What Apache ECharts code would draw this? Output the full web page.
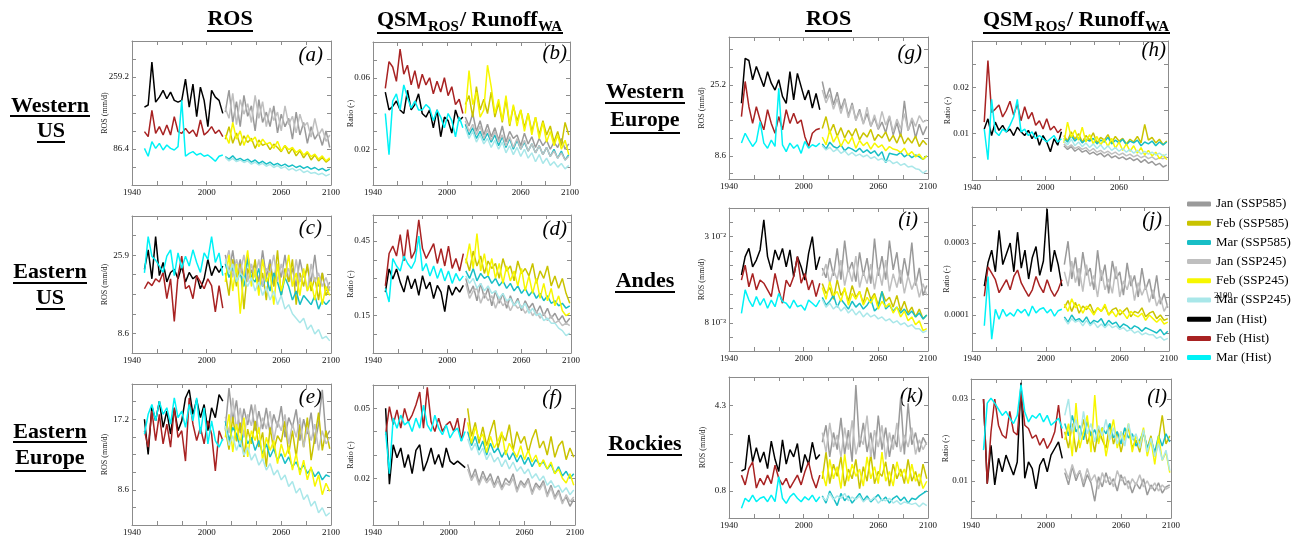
<!DOCTYPE html>
<html><head><meta charset="utf-8">
<script src="https://cdn.jsdelivr.net/npm/echarts@6/dist/echarts.min.js"></script>
<style>html,body{margin:0;padding:0;background:#fff}#c{width:1298px;height:535px}</style>
</head><body><div id="c"></div>
<script>
// ---------- shared categories ----------
const histYears = [1950,1953,1956,1959,1962,1965,1968,1971,1974,1977,1980,1983,1986,1989,1992,1995,1998,2001,2004,2007,2010,2013];
const futYears = [2015,2018,2021,2024,2027,2030,2033,2036,2039,2042,2045,2048,2051,2054,2057,2060,2063,2066,2069,2072,2075,2078,2081,2084,2087,2090,2093,2096,2099];
const seriesNames = ['Jan (SSP585)','Feb (SSP585)','Mar (SSP585)','Jan (SSP245)','Feb (SSP245)','Mar (SSP245)','Jan (Hist)','Feb (Hist)','Mar (Hist)'];
const seriesColors = ['#9a9a9a','#c9c300','#18bec6','#bfbfbf','#f7f700','#a9e7e9','#000000','#a82222','#00f2f6'];
const xTicks = [1940,1960,1980,2000,2020,2040,2060,2080,2100];
const xLabels = [1940,2000,2060,2100];
const xLabelsH = [1940,2000,2060];

// ---------- (a) Western US, ROS (mm/d) ----------
const a_jan585 = [175,228,150,200,140,215,165,190,130,205,150,175,140,190,125,170,140,160,110,175,120,150,100,140,110,125,95,130,90];
const a_feb585 = [110,140,100,125,95,118,102,112,88,108,95,100,85,98,90,80,95,75,88,70,82,65,78,60,72,58,66,55,62];
const a_mar585 = [68,62,70,60,64,58,62,55,60,52,57,50,55,48,52,46,50,44,48,42,46,40,44,38,42,36,40,34,38];
const a_jan245 = [185,160,220,145,205,170,195,150,215,160,200,140,185,155,175,130,190,145,165,125,170,140,150,115,160,120,135,105,120];
const a_feb245 = [120,100,150,110,130,95,120,105,115,92,110,98,102,88,105,82,95,85,90,78,85,72,80,68,74,62,70,58,65];
const a_mar245 = [66,58,64,56,60,54,58,50,55,48,52,45,50,42,47,40,44,36,40,34,38,30,34,28,30,25,28,22,26];
const a_janH = [187,192,295,199,211,227,207,223,203,199,203,254,187,242,164,235,203,140,227,211,203,172];
const a_febH = [128,116,179,124,140,120,144,120,164,128,124,136,124,132,116,156,120,128,140,124,132,116];
const a_marH = [88,69,104,88,100,84,96,88,84,92,203,69,76,80,72,76,69,72,65,57,69,72];
const a_yTicks = [0,43.2,86.4,129.6,172.8,216,259.2,302.4,345.6];
const a_yLabels = [[86.4,'86.4'],[259.2,'259.2']];

// ---------- (b) Western US, ratio (units of 0.001) ----------
const b_jan585 = [38,33,40,30,36,28,34,27,32,25,33,24,30,26,28,22,29,23,27,21,26,22,25,20,24,21,26,20,23];
const b_feb585 = [45,50,38,55,42,48,40,52,38,46,35,48,33,44,36,42,32,40,30,38,28,36,28,33,24,30,22,35,28];
const b_mar585 = [34,28,32,26,30,25,29,24,28,22,27,21,26,20,25,20,24,19,23,18,22,17,21,16,20,15,19,14,17];
const b_jan245 = [36,30,34,28,33,26,31,25,30,24,28,22,27,21,26,20,25,19,23,18,22,17,21,16,19,15,18,14,16];
const b_feb245 = [40,64,45,52,38,42,67,55,40,48,36,50,34,45,33,42,30,40,28,38,26,35,24,30,22,28,20,25,17];
const b_mar245 = [32,26,30,24,28,23,26,21,25,20,24,18,22,17,21,16,20,15,18,13,17,12,15,11,13,10,12,9,11];
const b_janH = [52,42,44,47,42,40,53,42,45,51,40,38,42,32,42,27,38,36,29,42,36,38];
const b_febH = [54,69,66,58,76,62,67,56,64,54,62,56,60,51,58,52,60,50,55,45,48,40];
const b_marH = [40,17,47,51,42,56,49,43,47,42,42,45,43,36,42,38,32,40,36,27,38,32];
const b_yTicks = [0,10,20,30,40,50,60,70,80];
const b_yLabels = [[20,'0.02'],[60,'0.06']];

// ---------- (c) Eastern US, ROS ----------
const c_jan585 = [26,22,27,21,25,20,26,22,24,20,27,21,25,19,24,21,26,20,23,19,25,21,23,20,26,19,22,18,20];
const c_feb585 = [22,17,25,19,24,14,23,20,25,18,22,16,24,19,27,17,23,20,25,15,22,19,24,18,21,16,22,17,19];
const c_mar585 = [24,21,23,20,22,19,25,21,20,23,19,21,18,22,20,17,21,19,16,18,15,17,16,15,17,14,16,15,16];
const c_jan245 = [24,27,21,25,22,26,20,24,21,25,19,23,22,26,20,24,21,23,19,25,20,22,18,24,20,22,19,21,18];
const c_feb245 = [20,26,18,24,13,22,27,19,23,17,25,20,22,15,24,18,21,26,19,22,17,23,18,20,16,21,15,19,17];
const c_mar245 = [25,22,24,20,22,21,19,21,18,20,17,19,16,18,15,17,14,15,13,12,11,12,9.5,10.5,8.5,9.5,7.5,8,7];
const c_janH = [22.8,27.1,20.7,30,21.4,24.3,20,22.1,22.8,20.7,23.5,20,22.1,20.7,21.4,18.5,20.7,25,21.4,23.5,22.1,23.5];
const c_febH = [18.5,20,19.2,20.7,20,22.1,16.3,20.7,11.3,21.4,25.7,18.5,19.2,16.3,21.4,20,18.5,20.7,19.2,13.4,19.2,14.2];
const c_marH = [22,30,25.7,24.8,23.5,22.1,25.7,27.1,21.4,26.4,23,25.7,23.5,27.1,24.3,22.1,26.4,25,30,24.3,26.4,21.4];
const c_yTicks = [4.32,8.64,12.96,17.28,21.6,25.92,30.24,34.56];
const c_yLabels = [[8.64,'8.6'],[25.92,'25.9']];

// ---------- (d) Eastern US, ratio (units of 0.01) ----------
const d_jan585 = [30,24,27,21,28,22,26,19,25,20,24,18,23,19,22,17,21,18,20,16,19,15,18,14,16,13,15,12,14];
const d_feb585 = [38,33,41,35,39,32,37,34,36,30,38,33,35,29,37,32,34,31,36,28,33,30,35,27,31,26,30,24,20];
const d_mar585 = [33,30,34,29,32,30,31,28,30,27,29,26,28,25,27,24,26,23,25,22,24,21,23,20,21,19,20,18,19];
const d_jan245 = [28,22,25,26,20,24,21,23,18,22,19,21,17,20,18,19,16,18,15,17,14,16,13,15,12,13,11,12,11];
const d_feb245 = [36,44,34,48,33,40,31,38,30,36,28,35,29,33,27,34,25,31,24,30,22,28,21,26,19,23,17,15,16];
const d_mar245 = [31,28,30,26,28,25,27,24,25,22,24,21,22,19,21,18,20,16,18,15,16,13,14,12,12,10,9,7,8];
const d_janH = [24.5,33.8,29.8,33.8,28.5,24.5,31.1,25.8,29.8,23.2,31.1,25.8,28.5,21.9,27.2,24.5,16.6,27.2,23.2,26.5,24.5,27.2];
const d_febH = [27,40,43,39,47.6,37,49.6,38,41,53.6,42,38,41,44,36,42,35,43,34,38,33,40];
const d_marH = [26,20.5,38,35,33,39,36,34,37,47,33,36,31,35,30,34,29,33,28,32,29,31];
const d_yTicks = [0,7.5,15,22.5,30,37.5,45,52.5];
const d_yLabels = [[15,'0.15'],[45,'0.45']];

// ---------- (e) Eastern Europe, ROS ----------
const e_jan585 = [16,21,17,19.5,15.5,18.5,16.5,19,15.8,18.2,16,18.6,15.4,17.8,16.2,18.8,15,17.4,16.2,18.4,14.6,17.2,15.4,18,14.2,16.6,20.8,15,15.8];
const e_feb585 = [16,13.5,17.5,14.5,16.8,12.6,16,14.2,17,13.8,15.6,11.4,16.2,13.4,15.2,14.4,17,13,15.8,12.6,16.6,13.8,17.4,12.2,15,18,13.4,15.8,13.6];
const e_mar585 = [17,14.6,16.2,15.4,13.8,15.8,14.2,15,13.4,14.6,13,14.2,12.6,13.6,12.2,13,11.8,12.6,11.4,12,11,11.6,10.6,11.2,10.2,10.8,9.8,10.4,10.2];
const e_jan245 = [17.5,15.5,19.8,16,18.6,15,17.8,16.4,19,15.4,17.4,16,18.2,14.6,17,15.8,17.8,14.2,16.6,15,17.4,13.8,16.2,14.6,16.6,13.4,15.8,14.2,15];
const e_feb245 = [15,17.8,13.2,16.6,14.2,17.4,12.6,15.8,14.6,16.2,12.2,15,13.4,14.6,11.8,14.2,12.6,13.8,11,13,10.4,12.2,9.8,11.4,9,10.4,8,9.4,8.4];
const e_mar245 = [16.4,14,15.2,13.4,14.6,12.8,13.8,12.2,13,11.6,12.4,11,11.8,10.4,11,9.8,10.4,9,9.6,8.2,8.8,7.4,8,6.6,7.2,5.8,6.4,5.4,5.8];
const e_janH = [17.2,12.9,18.8,17,19.4,16.2,18.2,15.4,18.6,15.8,17,19.8,20.8,17.8,19.6,17.4,19,15.8,18.6,17.4,20.2,19.4];
const e_febH = [15.8,13.8,18.2,14.6,17.8,14.2,16.6,13.8,18.6,15,15.8,12.1,19.8,16.6,14.6,16.2,14.2,17,15.4,10.9,15.8,14.6];
const e_marH = [15.4,17.8,19,17,19.4,17.8,18.6,16.6,19.8,17.4,18.2,16.2,19,17,19.8,15.4,18.6,14.2,17,14.6,13.8,14.8];
const e_yTicks = [4.3,6.45,8.6,10.75,12.9,15.05,17.2,19.35,21.5];
const e_yLabels = [[8.6,'8.6'],[17.2,'17.2']];

// ---------- (f) Eastern Europe, ratio (units of 0.001) ----------
const f_jan585 = [26,20,24,18,23,19,22,17,21,16,20,18,22,15,19,17,20,14,18,16,19,13,17,12,15,10,12,8,11];
const f_feb585 = [50,38,44,35,42,34,40,45,33,39,36,43,32,40,35,38,31,37,41,33,36,30,38,29,34,36,28,33,29];
const f_mar585 = [40,34,38,32,36,30,35,31,33,29,32,28,31,27,30,26,29,25,28,26,27,24,26,22,25,21,23,20,22];
const f_jan245 = [24,19,22,17,21,18,20,16,19,15,18,17,20,14,18,16,19,13,17,15,18,12,16,11,14,9,13,10,12];
const f_feb245 = [44,35,42,37,39,31,38,33,36,40,30,35,32,29,34,28,32,27,30,25,28,24,27,22,24,20,18,22,17];
const f_mar245 = [37,32,35,30,33,28,31,27,29,25,28,24,27,23,25,22,24,20,22,19,21,17,19,16,17,14,16,13,15];
const f_janH = [50,17.5,34.4,28.8,33,24.6,30.2,22,32,34.4,23.1,27.4,33,26,30.2,24.6,33,27.4,26,27.4,26,24.6];
const f_febH = [38.7,50.7,43,49.3,41.5,50,44.3,47.1,51.4,57,41.5,59,44.3,40.1,45.8,40.1,42.9,44.3,40.1,45.8,36,45.8];
const f_marH = [40,22,45.8,41.5,47.1,42.9,44.3,40.1,45.8,41.5,51.4,42.9,40.1,47.1,41.5,38.7,42.9,37.3,40.1,41.5,35.9,40.1];
const f_yTicks = [0,10,20,30,40,50,60];
const f_yLabels = [[20,'0.02'],[50,'0.05']];

// ---------- (g) Western Europe, ROS ----------
const g_jan585 = [26,22,24.5,20.5,23.5,19.5,22,18,21,17,19.5,16.2,18.5,15.5,17.5,14.8,16.5,14,17.8,13.5,16.4,13,21.5,14.5,17,12.8,16,13.5,15.5];
const g_feb585 = [15,17.8,14,16,13.2,15.2,12.8,14.6,13.2,15,12.4,14,13,14.8,12.2,13.6,12.8,14.2,12,13.4,11.6,13.8,11.4,12.8,11.6,13.2,10.8,12.2,11.2];
const g_mar585 = [11.4,10.2,11.8,10.8,10.4,11.2,9.8,10.6,10.2,9.6,10.4,9.4,10,9.2,9.8,8.6,9.6,7,9.2,9,8.8,9.4,8.4,9,8.2,8.8,8.4,7.8,8.6];
const g_jan245 = [24,21,23,19.5,22,18.5,21.5,17.5,20.5,16.8,19,16,20,15.5,18.2,15,19,15.8,18,14.2,17.2,15,18.5,14.5,17.5,15.5,18,16.5,17];
const g_feb245 = [13,11.2,14.6,11.8,13.4,10.8,12.6,11.4,13,10.4,12.2,11,11.8,10.2,11.6,10.6,11.2,9.8,10.8,10.2,10,9.4,10.4,8.8,9.6,8.4,9,7.8,8.6];
const g_mar245 = [11,10,10.6,9.6,10.2,9.2,9.8,8.8,9.4,8.6,9,8.4,8.8,8,8.4,7.6,8,7.2,7.6,6.8,7.2,6.4,6.8,6,6.2,5.6,5.4,4.6,5.2];
const g_janH = [20.9,31.4,30.9,26.4,29.5,27.1,24.8,28.3,25.6,24,26.4,22.5,20.9,28.3,21.7,27.9,24.8,21.7,24,19.8,23.2,19.4];
const g_febH = [17.8,26,20.1,16.2,20.1,17,14.7,19.4,16.2,13.9,17.8,14.7,19.4,16.2,18.6,16.2,17,13.1,10.8,13.9,14.7,15];
const g_marH = [11.6,13.9,12.3,10.8,12,16.6,11.6,10.4,12.3,10.8,24.4,11.2,9.6,11.6,10.4,11.2,9.2,12,10.4,11.2,10.8,11.6];
const g_yTicks = [4.45,8.6,12.75,16.9,21.05,25.2,29.35,33.5];
const g_yLabels = [[8.6,'8.6'],[25.2,'25.2']];

// ---------- (h) Western Europe, ratio (units of 0.001) ----------
const h_jan585 = [7.4,6.6,7.2,6.2,6.8,6,6.4,5.6,6,5.4,5.8,5,5.6,4.8,5.2,4.6,5,4.4,4.8,4.2,4.6,3.8,4.4,3.6,4,3.2,3.6,2.8,3.2];
const h_feb585 = [9.6,8.4,10.4,8.8,10,8.2,9.6,8.6,10.2,8,9.2,8.6,9.8,8,9.4,8.4,9,7.8,8.8,8.2,9.4,8,12,8.6,9.2,8,8.8,7.6,8.4];
const h_mar585 = [9,8.2,9.6,8.4,9.2,8,8.8,8.4,9,7.8,8.6,8.2,9.2,7.8,8.6,8,8.8,7.6,8.4,8,8.6,7.4,8.2,7.8,8.4,7.4,8.2,7.6,8.2];
const h_jan245 = [7.8,7,7.6,6.8,7.2,6.6,7,6.2,6.8,6,6.4,5.8,6.2,5.6,6,5.4,5.8,5.2,5.6,5,5.4,4.8,5.2,4.6,5,4.4,4.8,4.6,5];
const h_feb245 = [8,12.5,9.2,10.8,8.6,11.4,8.2,9.8,7.8,9.4,7.6,8.8,7.2,9,6.8,8.2,6.4,7.8,6.2,7.4,5.8,7,5.4,6.4,5.2,6,4.6,5.4,4.4];
const h_mar245 = [8.4,7.6,8.8,7.4,8.2,7.2,8,7,7.8,6.8,7.6,6.6,7.4,6.4,7,6.2,6.8,6,6.6,5.8,6.4,5.6,6.2,5.6,6,5.4,5.8,5.2,5.6];
const h_janH = [11,13.2,9.6,12.5,10.7,11.8,10.4,11,9.6,11.4,10.4,9.6,10.7,8.9,10.4,7.5,9.6,8.2,6.1,8.9,7.5,10.4];
const h_febH = [12.5,25.8,14.6,15.3,16.2,13.6,15,17,14,16.4,12.8,15.8,13.2,14.6,11.8,12.8,11,13.2,10.8,11.6,10.2,11];
const h_marH = [11,4.4,17.4,10.4,9.6,11,10.4,11.8,13.6,17.4,10.4,11,9.6,10.4,8.9,9.6,8.9,8.2,8.9,9.6,8.2,8.9];
const h_yTicks = [0,5,10,15,20,25,30];
const h_yLabels = [[10,'0.01'],[20,'0.02']];

// ---------- (i) Andes, ROS (units of 0.001 mm/d) ----------
const i_jan585 = [22,19.5,24.5,20,27,19,29,21,23.5,18.5,26,20,24.5,18,29.5,20,25,19,29,21.5,26,18,24.5,19.5,28.5,17.5,22,15,17.5];
const i_feb585 = [18,15.5,17,14,19,15,16.5,13.5,17.5,14.5,16,13,17,14,15.5,12.5,16,13.5,14.5,12,15,11,13.5,10.5,12,9.5,11.5,9,10];
const i_mar585 = [14.5,12.5,13.5,15,12,14,12.8,11.5,13.5,12,13,11.5,12.5,14,11,12,16,11.5,12.5,11,12,10.5,11.5,10,11,9.5,10.5,9,10];
const i_jan245 = [20,23,18,21.5,19,24,17.5,22,18.5,25,17,21,18,23,16.5,22,17.5,24,16,20.5,17,21.5,15.5,20,16.5,19,14.5,18,15];
const i_feb245 = [17,14,18.5,15,16,13.5,17,12.5,15.5,14,16,12.5,14.5,13,15,11.5,13.5,12,13,10.5,12,9.5,11,8.5,9.5,7.5,8.5,6,6.5];
const i_mar245 = [14,12,13,11.5,12.5,11,12,10.5,11.5,10,11,9.5,10.5,9.5,10,9,9.5,8.5,9,8,8.5,7.5,8,7,7.5,6.5,6.5,5.5,6];
const i_janH = [20.2,24.9,27,22.3,24,26.6,34.3,24.9,21.5,26.6,24,27,22.3,26.6,19.8,24.9,22.3,18.9,25.7,30,21.5,24.9];
const i_febH = [18.9,22.7,17.2,20.6,16.4,18.9,18.1,16.4,14.7,20.6,16.4,13,18.9,17.2,19.8,24.9,18.1,20.6,16.4,18.9,14.7,18.1];
const i_marH = [10.4,16.4,13.8,12.1,14.7,12.5,14.2,11.7,13.8,12.1,15.5,13.4,13,11.7,13.8,12.1,12.5,11.2,13.8,13,12.1,13.8];
const i_yTicks = [4.33,8,11.67,15.33,19,22.67,26.33,30,33.67];
const i_yLabels = [[8,'8 10\u207B\u00B3'],[30,'3 10\u207B\u00B2']];

// ---------- (j) Andes, ratio (units of 0.00001) ----------
const j_jan585 = [24,30.5,20,26,18,27.5,21,23,17,28,19.5,24,16,25,20,22,15.5,24.5,18,21,15,23,17,20,14.5,21,13,16,12];
const j_feb585 = [12,14,11,13.5,10.5,12.5,11.5,13,10.5,12,11,12.5,10,11.5,12,10,11,12,9.5,11,10.5,12,9.5,10.5,11,9,10,8.5,9];
const j_mar585 = [9.5,8,10,8.5,9,8,9.5,7.5,8.5,8,9,7,8.5,7.5,8,6.5,7.5,7,6,7,6.5,5.5,6.5,6,5.5,5,6,4.5,5.5];
const j_jan245 = [22,18,25,19,23,16.5,24,18,21,15,22.5,17,20,16,23.5,15,19.5,17,21,14,19,15.5,18,13.5,17,12.5,15,11,13];
const j_feb245 = [13,11,14.5,12,13,10.5,12.5,11.5,10,12,11,13,10,11,9.5,11.5,10.5,9,11,10,9.5,10.5,8.5,10,9,8,9,7.5,8];
const j_mar245 = [9,7.5,9,8,8.5,7,8.5,7,8,6.5,7.5,6.5,7.5,6.5,7,6,6.5,5.5,6,5,5.5,4.5,5,4.5,4.5,3.5,4,3,3.5];
const j_janH = [18,24.5,28,22,33.5,24,27,30,22,33,23,28,20,26,29,21,25,39.5,22,28,24,18];
const j_febH = [15.2,23.4,21.6,19.8,16.2,18,19.8,17,20.7,22.5,18.9,17,15.2,17,20.7,18,16.2,19.8,17,15.2,17,19.8];
const j_marH = [7,20.7,3.3,11.6,8.8,11.6,9.7,10.6,9.7,11.6,10.6,11.6,9.7,12.5,10.6,11.6,12,10.6,11.6,9.7,11.2,11.6];
const j_yTicks = [0,5,10,15,20,25,30,35,40];
const j_yLabels = [[10,'0.0001'],[30,'0.0003']];

// ---------- (k) Rockies, ROS ----------
const k_jan585 = [2.8,3.5,2.2,3.2,2.5,3.8,2.3,3.3,2,5.15,2.6,3.6,2.4,3.2,2.1,3.9,2.5,3.4,2.2,3.1,2.6,4.6,2.3,4.4,2.7,3.2,2.4,3,2.7];
const k_feb585 = [1.3,2.4,1.1,1.9,1.4,2.2,1,1.7,1.3,2.1,0.9,1.8,1.2,2.3,1.1,1.6,1.4,2,1,1.9,1.3,1.7,1.1,2.1,1.2,1.6,1,1.9,1.3];
const k_mar585 = [0.6,0.3,0.8,0.5,0.2,0.7,0.4,0.6,0.3,0.5,0.7,0.4,0.6,0.35,0.5,0.65,0.4,0.55,0.3,0.5,0.6,0.4,0.55,0.3,0.5,0.45,0.6,0.7,0.8];
const k_jan245 = [3.2,2.4,3.6,2.6,3.1,2.2,3.4,2.5,3.7,2.3,3,2.7,3.9,2.2,3.3,2.6,3.5,2.1,3.2,2.5,3.6,2.4,3.1,2.6,3.4,2.3,2.9,2.5,2.8];
const k_feb245 = [1.6,1,2.1,1.3,1.8,0.9,2.3,1.2,1.9,1.4,1.7,1,2.2,1.3,1.8,1.1,2.4,1.2,1.6,1,2,1.4,1.7,1.1,1.9,1.2,1.5,0.9,1.2];
const k_mar245 = [0.55,0.4,0.7,0.45,0.6,0.5,0.7,0.4,0.55,0.45,0.6,0.35,0.5,0.4,0.55,0.3,0.45,0.4,0.5,0.3,0.4,0.25,0.35,0.3,0.25,0.3,0.15,0.3,0.2];
const k_janH = [1.62,1.7,3.1,2.0,2.58,1.98,2.4,1.72,2.85,2.1,1.6,2.9,1.9,2.5,2.2,2.75,1.55,2.3,1.9,2.8,2.1,2.3];
const k_febH = [1.45,1.05,1.72,1.99,0.92,1.32,1.05,1.45,1.1,1.86,1.32,1.05,1.32,0.92,1.18,1.45,1.05,1.59,1.99,1.32,0.92,1.45];
const k_marH = [0.09,0.5,0.36,0.63,0.36,0.5,0.56,0.36,0.63,0.36,1.39,0.5,0.29,0.56,0.7,0.5,0.36,0.56,0.43,0.63,0.36,0.56];
const k_yTicks = [0.8,1.967,3.133,4.3,5.467];
const k_yLabels = [[0.8,'0.8'],[4.3,'4.3']];

// ---------- (l) Rockies, ratio (units of 0.001) ----------
const l_jan585 = [12,9,13.5,10,12.5,8.5,11.5,9.5,5,11,8.5,12,9,10.5,7.5,11.5,9,10,7,9.5,8,10.5,6.5,9,7.5,9.5,7,8.5,9];
const l_feb585 = [22,18,24,17,21,25,19,22,17,23,20,18,24,19,22,17,21,23,18,20,17,22,18,21,16,20,26,19,21];
const l_mar585 = [24,21,26,22,23.5,20,24.5,21,22.5,19.5,23,21.5,24,20.5,22,19,23,20.5,21.5,18.5,20,22,18,20,17,21,18.5,21.5,19.5];
const l_jan245 = [13,10.5,14,11,12.5,9.5,13,10,11.5,8,12,9.5,11,8.5,12.5,10,11,8,10.5,9,11.5,8.5,10,8,9.5,7.5,9,8,8.5];
const l_feb245 = [20,24,16,29,18,22,26,17,31,19,23,16,21,25,18,22,20,24,17,21,19,23,16,20,14,21,15,17,12];
const l_mar245 = [26,30,22,25,20,27,21.5,24,19.5,23.5,21,25,20,23,19,22,18.5,24,20,21.5,18,22.5,17,20.5,16,19,15,17.5,12.5];
const l_janH = [30,9.3,18.7,9,15.5,12.2,16.3,13.8,11.4,14.6,34,10.6,14.6,13,8,13.8,15.5,12.2,16.3,17.9,19.5,15.5];
const l_febH = [30,9.3,22,30,23.6,21.2,20.4,27,22,21.2,31.8,23.6,22.8,20.4,21.2,18.7,20.4,17.9,19.5,22,28.5,20.4];
const l_marH = [17.5,29,30.2,29,27.5,26,27,25.3,24,26,33.5,26.9,24.4,26,25.3,26.5,24.4,26,23.6,24.4,25.3,22.8];
const l_yTicks = [5,10,15,20,25,30];
const l_yLabels = [[10,'0.01'],[30,'0.03']];

// ---------- layout ----------
const ROS = 'ROS (mm/d)', RAT = 'Ratio (-)';
const panels = [
  {box:[132,41,199,144], yr:[0,345.6], ticks:a_yTicks, labels:a_yLabels, name:ROS, gap:23, xl:xLabels, letter:['(a)',323,55],
   data:[a_jan585,a_feb585,a_mar585,a_jan245,a_feb245,a_mar245,a_janH,a_febH,a_marH]},
  {box:[373,42,197,143], yr:[0,80], ticks:b_yTicks, labels:b_yLabels, name:RAT, gap:18, xl:xLabels, letter:['(b)',567,53],
   data:[b_jan585,b_feb585,b_mar585,b_jan245,b_feb245,b_mar245,b_janH,b_febH,b_marH]},
  {box:[132,216,199,137], yr:[4.32,34.56], ticks:c_yTicks, labels:c_yLabels, name:ROS, gap:23, xl:xLabels, letter:['(c)',322,228],
   data:[c_jan585,c_feb585,c_mar585,c_jan245,c_feb245,c_mar245,c_janH,c_febH,c_marH]},
  {box:[373,215,198,138], yr:[0,55.5], ticks:d_yTicks, labels:d_yLabels, name:RAT, gap:18, xl:xLabels, letter:['(d)',567,229],
   data:[d_jan585,d_feb585,d_mar585,d_jan245,d_feb245,d_mar245,d_janH,d_febH,d_marH]},
  {box:[132,384,199,141], yr:[4.3,21.5], ticks:e_yTicks, labels:e_yLabels, name:ROS, gap:23, xl:xLabels, letter:['(e)',322,397],
   data:[e_jan585,e_feb585,e_mar585,e_jan245,e_feb245,e_mar245,e_janH,e_febH,e_marH]},
  {box:[373,385,202,140], yr:[0,60], ticks:f_yTicks, labels:f_yLabels, name:RAT, gap:18, xl:xLabels, letter:['(f)',562,398],
   data:[f_jan585,f_feb585,f_mar585,f_jan245,f_feb245,f_mar245,f_janH,f_febH,f_marH]},
  {box:[729,37,199,142], yr:[3.2,36.4], ticks:g_yTicks, labels:g_yLabels, name:ROS, gap:23, xl:xLabels, letter:['(g)',922,53],
   data:[g_jan585,g_feb585,g_mar585,g_jan245,g_feb245,g_mar245,g_janH,g_febH,g_marH]},
  {box:[972,41,196,139], yr:[0,30], ticks:h_yTicks, labels:h_yLabels, name:RAT, gap:20, xl:xLabelsH, letter:['(h)',1166,50],
   data:[h_jan585,h_feb585,h_mar585,h_jan245,h_feb245,h_mar245,h_janH,h_febH,h_marH]},
  {box:[729,208,199,143], yr:[0.8,37.3], ticks:i_yTicks, labels:i_yLabels, name:ROS, gap:23, xl:xLabels, letter:['(i)',918,220],
   data:[i_jan585,i_feb585,i_mar585,i_jan245,i_feb245,i_mar245,i_janH,i_febH,i_marH]},
  {box:[972,207,197,144], yr:[0,40], ticks:j_yTicks, labels:j_yLabels, name:RAT, gap:21, xl:xLabels, letter:['(j)',1162,220],
   data:[j_jan585,j_feb585,j_mar585,j_jan245,j_feb245,j_mar245,j_janH,j_febH,j_marH]},
  {box:[729,377,199,141], yr:[-0.31,5.48], ticks:k_yTicks, labels:k_yLabels, name:ROS, gap:22, xl:xLabels, letter:['(k)',923,396],
   data:[k_jan585,k_feb585,k_mar585,k_jan245,k_feb245,k_mar245,k_janH,k_febH,k_marH]},
  {box:[971,379,200,139], yr:[0.9,34.9], ticks:l_yTicks, labels:l_yLabels, name:RAT, gap:21, xl:xLabels, letter:['(l)',1167,397],
   data:[l_jan585,l_feb585,l_mar585,l_jan245,l_feb245,l_mar245,l_janH,l_febH,l_marH]}
];

const FONT = '"Liberation Serif","Times New Roman",Times,serif';
const AX = '#8c8c8c';
const option = {animation:false, backgroundColor:'#ffffff', grid:[], xAxis:[], yAxis:[], series:[], graphic:[],
  legend:{orient:'vertical', left:1187, top:197, padding:0, itemWidth:24, itemHeight:5, itemGap:5.2, icon:'roundRect',
    textStyle:{fontSize:13, fontFamily:FONT, color:'#000', lineHeight:14}, data:seriesNames, selectedMode:false}
};

panels.forEach((p,i)=>{
  option.grid.push({left:p.box[0], top:p.box[1], width:p.box[2], height:p.box[3], containLabel:false, outerBoundsMode:'none'});
  const line = {show:true, onZero:false, lineStyle:{color:AX, width:1}};
  const tk = vals => ({show:true, inside:true, length:4, customValues:vals, lineStyle:{color:AX, width:1}});
  option.xAxis.push({type:'value', gridIndex:i, min:1940, max:2100, position:'bottom', axisLine:line, axisTick:tk(xTicks),
    axisLabel:{customValues:p.xl, formatter:v=>String(v), fontSize:9, fontFamily:FONT, color:'#111', margin:3}, splitLine:{show:false}});
  option.xAxis.push({type:'value', gridIndex:i, min:1940, max:2100, position:'top', axisLine:line, axisTick:tk(xTicks),
    axisLabel:{show:false}, splitLine:{show:false}});
  const lbl = p.labels;
  option.yAxis.push({type:'value', gridIndex:i, min:p.yr[0], max:p.yr[1], position:'left', axisLine:line, axisTick:tk(p.ticks),
    axisLabel:{customValues:lbl.map(d=>d[0]), formatter:v=>{const m=lbl.find(d=>Math.abs(d[0]-v)<1e-6); return m?m[1]:'';},
      fontSize:9, fontFamily:FONT, color:'#111', margin:3},
    splitLine:{show:false}, name:p.name, nameLocation:'middle', nameGap:p.gap, nameRotate:90, nameMoveOverlap:false,
    nameTextStyle:{fontSize:8, fontFamily:FONT, color:'#222'}});
  option.yAxis.push({type:'value', gridIndex:i, min:p.yr[0], max:p.yr[1], position:'right', axisLine:line, axisTick:tk(p.ticks),
    axisLabel:{show:false}, splitLine:{show:false}});
  p.data.forEach((arr,k)=>{
    const yrs = k<6 ? futYears : histYears;
    option.series.push({type:'line', name:seriesNames[k], xAxisIndex:2*i, yAxisIndex:2*i,
      data:yrs.map((y,j)=>[y,arr[j]]), showSymbol:false, symbol:'none', silent:true,
      lineStyle:{width:1.5, color:seriesColors[k]}, itemStyle:{color:seriesColors[k]}});
  });
});

// ---------- text decorations ----------
const G = option.graphic;
function T(x,y,text,size,weight,fstyle,align){
  G.push({type:'text', x:x, y:y, silent:true, style:{text:text, fontSize:size, fontFamily:FONT, fontWeight:weight||'normal',
    fontStyle:fstyle||'normal', fill:'#000', align:align||'center', verticalAlign:'middle', textAlign:align||'center', textVerticalAlign:'middle'}});
}
function U(x1,x2,y){ G.push({type:'line', silent:true, shape:{x1:x1,y1:y,x2:x2,y2:y}, style:{stroke:'#000', lineWidth:2}}); }

// column headers
T(230,19.3,'ROS',22,'bold'); U(207,253,31);
T(828.5,19.3,'ROS',22,'bold'); U(805,852,31);
[[377,428,460,538,563],[983,1035,1067,1145,1170]].forEach(q=>{
  T(q[0],20.3,'QSM',22,'bold','normal','left');
  T(q[1],27.4,'ROS',15,'bold','normal','left');
  T(q[2],20.3,'/ Runoff',22,'bold','normal','left');
  T(q[3],27.4,'WA',15,'bold','normal','left');
  U(q[0],q[4],33);
});
// region labels
T(50,106.3,'Western',22,'bold'); U(10,90,116);
T(51,131.3,'US',22,'bold'); U(37,65,142);
T(50,272.3,'Eastern',22,'bold'); U(13,87,283);
T(50,298.3,'US',22,'bold'); U(36,65,309);
T(50,432.3,'Eastern',22,'bold'); U(13,87,442);
T(50,458.3,'Europe',22,'bold'); U(15,86,471);
T(645,92.3,'Western',22,'bold'); U(605,685,103);
T(645,120.3,'Europe',22,'bold'); U(610,680,133);
T(645,281.3,'Andes',22,'bold'); U(615,675,292);
T(645,444.3,'Rockies',22,'bold'); U(607,682,455);
// panel letters
panels.forEach(p=>T(p.letter[1],p.letter[2],p.letter[0],21,'normal','italic','right'));
// stray axis label
T(1223,296,'2100',9,'normal','normal','center');

const chart = echarts.init(document.getElementById('c'), null, {renderer:'canvas'});
chart.setOption(option);
</script>
</body></html>
